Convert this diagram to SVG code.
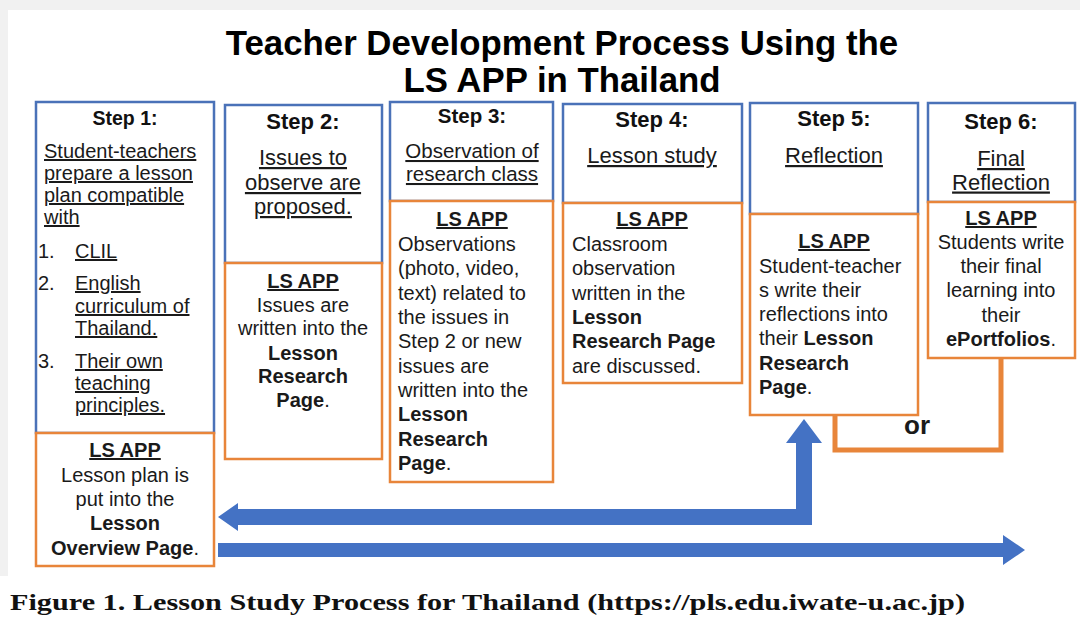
<svg xmlns="http://www.w3.org/2000/svg" width="1080" height="618" viewBox="0 0 1080 618">
<style>
text{font-family:"Liberation Sans",Arial,sans-serif;fill:#1a1a1a}
.t{font-size:34.8px;font-weight:bold;text-anchor:middle;fill:#000}
.h{font-weight:bold;text-anchor:middle;fill:#111}
.u{text-decoration:underline}
.c{text-anchor:middle}
.b{font-weight:bold}
.s20{font-size:20px}
.s22{font-size:22px}
.blue{fill:#fff;stroke:#4A72B8;stroke-width:2.5}
.org{fill:#fff;stroke:#E8853A;stroke-width:2.5}
.arr{fill:#4472C4}
.cap{font-family:"Liberation Serif","Times New Roman",serif;font-size:23.5px;font-weight:bold;fill:#111}
</style>
<rect x="0" y="0" width="1080" height="618" fill="#f1f1f1"/>
<rect x="8" y="10" width="1072" height="566" fill="#fff"/>
<rect x="0" y="576" width="1080" height="42" fill="#fff"/>

<g id="title">
<text class="t" x="562" y="55">Teacher Development Process Using the</text>
<text class="t" x="562" y="92">LS APP in Thailand</text>
</g>

<g id="step1">
<rect class="blue" x="36" y="102" width="178" height="331"/>
<rect class="org" x="36" y="433" width="178" height="133"/>
<text class="h" x="125" y="125" font-size="19.5">Step 1:</text>
<g class="s20">
<text class="u" x="44" y="158">Student-teachers</text>
<text class="u" x="44" y="180">prepare a lesson</text>
<text class="u" x="44" y="202">plan compatible</text>
<text class="u" x="44" y="224">with</text>
<text x="38" y="258">1.</text><text class="u" x="75" y="258">CLIL</text>
<text x="38" y="290">2.</text><text class="u" x="75" y="290">English</text>
<text class="u" x="75" y="313">curriculum of</text>
<text class="u" x="75" y="335">Thailand.</text>
<text x="38" y="368">3.</text><text class="u" x="75" y="368">Their own</text>
<text class="u" x="75" y="390">teaching</text>
<text class="u" x="75" y="412">principles.</text>
<text class="c b u" x="125" y="457">LS APP</text>
<text class="c" x="125" y="482">Lesson plan is</text>
<text class="c" x="125" y="506">put into the</text>
<text class="c b" x="125" y="530">Lesson</text>
<text class="c" x="125" y="555"><tspan class="b">Overview Page</tspan>.</text>
</g>
</g>

<g id="step2">
<rect class="blue" x="225" y="105" width="157" height="158"/>
<rect class="org" x="225" y="263" width="157" height="196"/>
<text class="h s22" x="303" y="129">Step 2:</text>
<text class="c u s22" x="303" y="165">Issues to</text>
<text class="c u s22" x="303" y="190">observe are</text>
<text class="c u s22" x="303" y="214">proposed.</text>
<g class="s20">
<text class="c b u" x="303" y="288">LS APP</text>
<text class="c" x="303" y="312">Issues are</text>
<text class="c" x="303" y="335">written into the</text>
<text class="c b" x="303" y="360">Lesson</text>
<text class="c b" x="303" y="383">Research</text>
<text class="c" x="303" y="407"><tspan class="b">Page</tspan>.</text>
</g>
</g>

<g id="step3">
<rect class="blue" x="390" y="102" width="163" height="99"/>
<rect class="org" x="390" y="201" width="163" height="281"/>
<text class="h" x="472" y="123" font-size="20.5">Step 3:</text>
<text class="c u" x="472" y="158" font-size="20.5">Observation of</text>
<text class="c u" x="472" y="181" font-size="20.5">research class</text>
<g class="s20">
<text class="c b u" x="472" y="226">LS APP</text>
<text x="398" y="251">Observations</text>
<text x="398" y="275">(photo, video,</text>
<text x="398" y="300">text) related to</text>
<text x="398" y="324">the issues in</text>
<text x="398" y="348">Step 2 or new</text>
<text x="398" y="373">issues are</text>
<text x="398" y="397">written into the</text>
<text class="b" x="398" y="421">Lesson</text>
<text class="b" x="398" y="446">Research</text>
<text x="398" y="470"><tspan class="b">Page</tspan>.</text>
</g>
</g>

<g id="step4">
<rect class="blue" x="563" y="104" width="179" height="99"/>
<rect class="org" x="563" y="203" width="179" height="180"/>
<text class="h s22" x="652" y="127">Step 4:</text>
<text class="c u s22" x="652" y="163">Lesson study</text>
<g class="s20">
<text class="c b u" x="652" y="226">LS APP</text>
<text x="572" y="251">Classroom</text>
<text x="572" y="275">observation</text>
<text x="572" y="300">written in the</text>
<text class="b" x="572" y="324">Lesson</text>
<text class="b" x="572" y="348">Research Page</text>
<text x="572" y="373">are discussed.</text>
</g>
</g>

<g id="step5">
<rect class="blue" x="750" y="103" width="168" height="111"/>
<rect class="org" x="750" y="214" width="168" height="201"/>
<text class="h s22" x="834" y="126">Step 5:</text>
<text class="c u s22" x="834" y="163">Reflection</text>
<g class="s20">
<text class="c b u" x="834" y="248">LS APP</text>
<text x="759" y="273">Student-teacher</text>
<text x="759" y="297">s write their</text>
<text x="759" y="321">reflections into</text>
<text x="759" y="345">their <tspan class="b">Lesson</tspan></text>
<text class="b" x="759" y="370">Research</text>
<text x="759" y="394"><tspan class="b">Page</tspan>.</text>
</g>
</g>

<g id="step6">
<rect class="blue" x="928" y="103" width="147" height="99"/>
<rect class="org" x="928" y="202" width="147" height="156"/>
<text class="h s22" x="1001" y="129">Step 6:</text>
<text class="c u s22" x="1001" y="166">Final</text>
<text class="c u s22" x="1001" y="189.5">Reflection</text>
<g class="s20">
<text class="c b u" x="1001" y="225">LS APP</text>
<text class="c" x="1001" y="249">Students write</text>
<text class="c" x="1001" y="273">their final</text>
<text class="c" x="1001" y="297">learning into</text>
<text class="c" x="1001" y="322">their</text>
<text class="c" x="1001" y="346"><tspan class="b">ePortfolios</tspan>.</text>
</g>
</g>

<g id="connectors">
<path d="M835,415 V450 H1001 V358" fill="none" stroke="#E8853A" stroke-width="5"/>
<text class="b" x="904" y="434" font-size="26" fill="#111">or</text>
<polygon class="arr" points="218,517 238,503 238,509 796,509 796,443 786,443 804,419 822,443 812,443 812,525 238,525 238,531"/>
<polygon class="arr" points="218,543 1003,543 1003,535 1025,550 1003,565 1003,557 218,557"/>
</g>

<text class="cap" x="10" y="610" textLength="955" lengthAdjust="spacingAndGlyphs">Figure 1. Lesson Study Process for Thailand (https://pls.edu.iwate-u.ac.jp)</text>
</svg>
